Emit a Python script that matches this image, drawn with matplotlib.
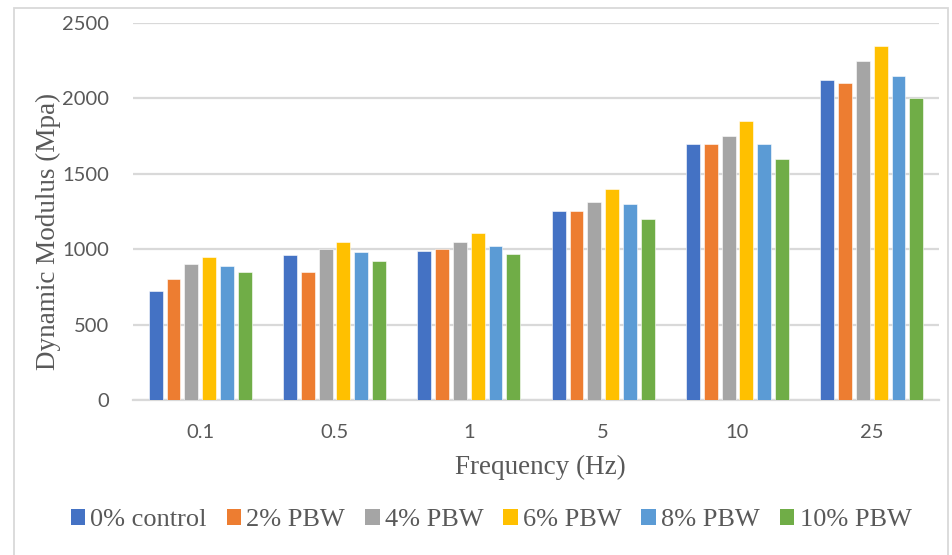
import numpy as np
import matplotlib
matplotlib.use("Agg")
import matplotlib.pyplot as plt
from matplotlib.patches import Rectangle, Patch

# Dynamic modulus (MPa) per loading frequency for each PBW content
frequencies = ["0.1", "0.5", "1", "5", "10", "25"]
series_names = ["0% control", "2% PBW", "4% PBW", "6% PBW", "8% PBW", "10% PBW"]
control_0 = [725, 960, 990, 1250, 1700, 2120]
pbw_2 = [800, 850, 1000, 1250, 1700, 2100]
pbw_4 = [900, 1000, 1050, 1310, 1750, 2250]
pbw_6 = [950, 1050, 1110, 1400, 1850, 2350]
pbw_8 = [890, 980, 1020, 1300, 1700, 2150]
pbw_10 = [850, 920, 970, 1200, 1600, 2000]
series_values = [control_0, pbw_2, pbw_4, pbw_6, pbw_8, pbw_10]
y_ticks = [0, 500, 1000, 1500, 2000, 2500]

colors = ["#4472C4", "#ED7D31", "#A5A5A5", "#FFC000", "#5B9BD5", "#70AD47"]
grid_color = "#D9D9D9"
text_color = "#595959"
serif = ["Liberation Serif", "DejaVu Serif"]
sans = ["Lato", "DejaVu Sans"]

W, H = 952, 555
fig = plt.figure(figsize=(W / 100, H / 100), dpi=100)
fig.patch.set_facecolor("white")

# chart frame
fig.patches.append(Rectangle((14 / W, -0.05), (948 - 14) / W, 1 - 8 / H + 0.05,
                             transform=fig.transFigure, fill=False,
                             edgecolor=grid_color, linewidth=1.3))

left, right, top, bottom = 133, 939, 23, 400
ax = fig.add_axes([left / W, 1 - bottom / H, (right - left) / W, (bottom - top) / H])

x = np.arange(len(frequencies))
pitch = 0.1324
width = 0.104
for i, (vals, name, c) in enumerate(zip(series_values, series_names, colors)):
    ax.bar(x + (i - 2.5) * pitch, vals, width=width, color=c, label=name,
           edgecolor="white", linewidth=0.4, zorder=3)

ax.set_xlim(-0.5, len(frequencies) - 0.5)
ax.set_ylim(0, 2500)
ax.set_yticks(y_ticks)
ax.set_xticks(x)
ax.set_xticklabels(frequencies)
ax.yaxis.grid(True, color=grid_color, linewidth=1.6, zorder=0)
ax.set_axisbelow(True)
for s in ["top", "right", "left"]:
    ax.spines[s].set_visible(False)
ax.spines["bottom"].set_color(grid_color)
ax.spines["bottom"].set_linewidth(1.6)
ax.tick_params(axis="both", length=0, colors=text_color, labelsize=14.5)
ax.tick_params(axis="x", pad=17)
ax.tick_params(axis="y", pad=17)
for lab in ax.get_xticklabels() + ax.get_yticklabels():
    lab.set_family(sans)

fig.text(540 / W, 1 - 467 / H, "Frequency (Hz)", ha="center", va="center",
         family=serif, fontsize=19.5, color=text_color)
fig.text(48 / W, 1 - 231 / H, "Dynamic Modulus (Mpa)", ha="center", va="center",
         rotation=90, family=serif, fontsize=19.5, color=text_color)

handles = [Patch(facecolor=c, edgecolor="none") for c in colors]
leg = fig.legend(handles, series_names, loc="center", ncol=6,
                 bbox_to_anchor=(491 / W, 1 - 520 / H), frameon=False,
                 prop={"family": serif, "size": 19}, handlelength=0.55,
                 handleheight=0.55, handletextpad=0.2, columnspacing=0.75,
                 borderaxespad=0)
for t in leg.get_texts():
    t.set_color(text_color)

fig.savefig("out.png", dpi=100)
